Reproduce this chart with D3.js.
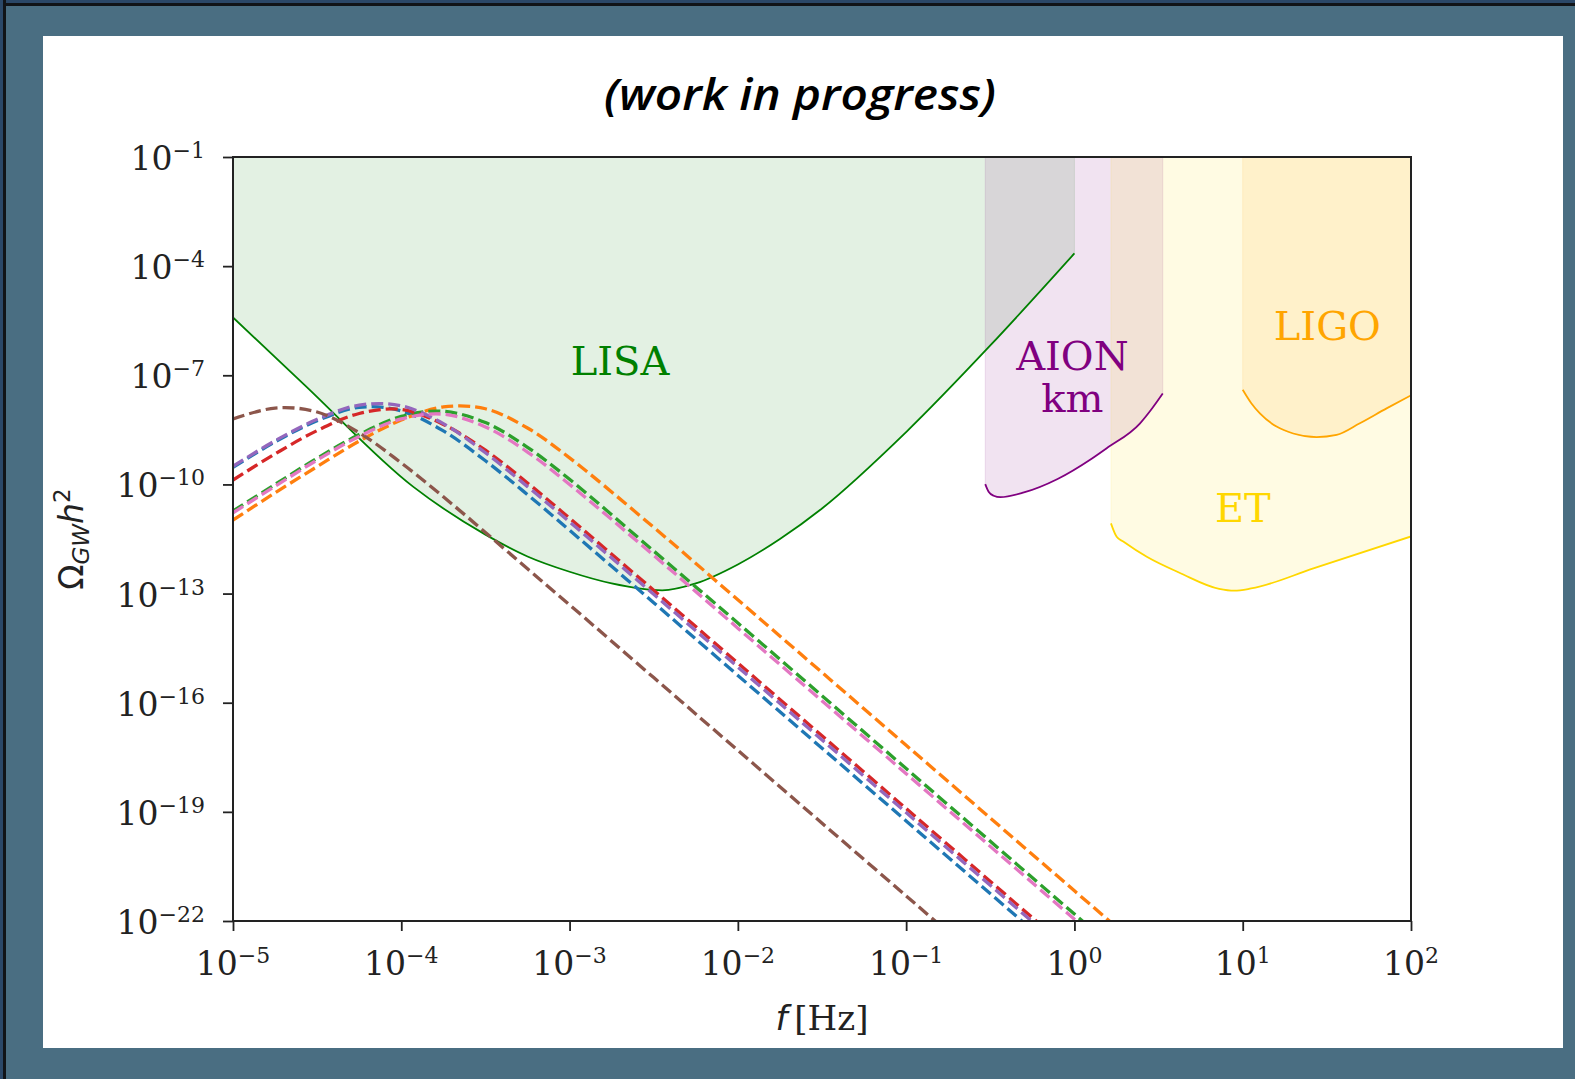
<!DOCTYPE html>
<html>
<head>
<meta charset="utf-8">
<script src="https://cdn.jsdelivr.net/npm/d3@7"></script>
<style>
  html, body { margin: 0; padding: 0; background: #4a6e82; }
  svg { display: block; }
</style>
</head>
<body>
<svg id="chart" width="1575" height="1079"></svg>
<script>
// ---- data (log10 values) ----
const freqExp = [-5, -4.75, -4.5, -4.25, -4, -3.75, -3.5, -3.25, -3, -2.5, -2, -1, 0, 0.5];

const omegaBlue   = [-9.53, -8.83, -8.25, -7.88, -7.98, -8.53, -9.35, -10.28, -11.26, -13.25, -15.25, -19.25, -23.25, -25.25];
const omegaOrange = [-10.98, -10.23, -9.51, -8.81, -8.23, -7.87, -7.92, -8.45, -9.27, -11.18, -13.17, -17.17, -21.17, -23.17];
const omegaGreen  = [-10.73, -10.00, -9.28, -8.63, -8.13, -7.99, -8.30, -8.98, -9.86, -11.83, -13.81, -17.81, -21.81, -23.81];
const omegaRed    = [-9.88, -9.16, -8.52, -8.05, -7.94, -8.35, -9.06, -9.96, -10.93, -12.91, -14.91, -18.91, -22.91, -24.91];
const omegaPurple = [-9.50, -8.80, -8.21, -7.82, -7.84, -8.33, -9.13, -10.06, -11.03, -13.02, -15.02, -19.02, -23.02, -25.02];
const omegaBrown  = [-8.20, -7.90, -8.01, -8.58, -9.41, -10.34, -11.32, -12.32, -13.31, -15.31, -17.31, -21.31, -25.31, -27.31];
const omegaPink   = [-10.78, -10.05, -9.33, -8.68, -8.20, -8.07, -8.42, -9.11, -10.00, -11.95, -13.95, -17.95, -21.95, -23.95];

const spectra = [omegaBlue, omegaOrange, omegaGreen, omegaRed, omegaPurple, omegaBrown, omegaPink];
const spectraColors = ["#1f77b4", "#ff7f0e", "#2ca02c", "#d62728", "#9467bd", "#8c564b", "#e377c2"];

const lisaFreqExp  = [-5, -4.574, -3.93, -3.5, -3.25, -3, -2.75, -2.45, -2.25, -2, -1.75, -1.5, -1, -0.5, 0];
const lisaOmegaExp = [-5.41, -7.27, -10.06, -11.38, -11.98, -12.40, -12.72, -12.91, -12.72, -12.20, -11.50, -10.66, -8.56, -6.18, -3.65];

const aionFreqExp  = [-0.53, -0.51, -0.48, -0.44, -0.3, -0.1, 0.1, 0.19, 0.39, 0.46, 0.525];
const aionOmegaExp = [-9.99, -10.2, -10.31, -10.35, -10.22, -9.85, -9.30, -9.01, -8.32, -7.92, -7.5];

const etFreqExp  = [0.217, 0.251, 0.29, 0.43, 0.63, 0.86, 0.95, 1.05, 1.42, 2.0];
const etOmegaExp = [-11.07, -11.44, -11.57, -11.99, -12.44, -12.87, -12.92, -12.86, -12.31, -11.43];

const ligoFreqExp  = [1.0, 1.051, 1.102, 1.201, 1.30, 1.439, 1.558, 1.696, 1.855, 2.0];
const ligoOmegaExp = [-7.40, -7.77, -8.05, -8.41, -8.60, -8.70, -8.64, -8.32, -7.91, -7.55];

const detectors = [
  { name: ["LISA"], color: "#008000", f: lisaFreqExp, o: lisaOmegaExp, label: [-2.70, -6.99] },
  { name: ["AION", "km"], color: "#800080", f: aionFreqExp, o: aionOmegaExp, label: [-0.012, -6.855] },
  { name: ["ET"], color: "#ffd700", f: etFreqExp, o: etOmegaExp, label: [1.001, -11.02] },
  { name: ["LIGO"], color: "#ffa500", f: ligoFreqExp, o: ligoOmegaExp, label: [1.503, -6.03] }
];

const xTickExp = [-5, -4, -3, -2, -1, 0, 1, 2];
const yTickExp = [-22, -19, -16, -13, -10, -7, -4, -1];

// ---- layout ----
const W = 1575, H = 1079;
const plot = { left: 233, right: 1411, top: 157, bottom: 921 };
const serif = "'DejaVu Serif', serif";
const sans = "'DejaVu Sans', sans-serif";

const svg = d3.select("#chart");

// slide background and frame
svg.append("rect").attr("width", W).attr("height", H).attr("fill", "#4a6e82");
svg.append("rect").attr("width", W).attr("height", 6).attr("fill", "#111418");
svg.append("rect").attr("width", W).attr("height", 3).attr("fill", "#2b4868");
svg.append("rect").attr("width", 6).attr("height", H).attr("fill", "#111418");
svg.append("rect").attr("width", 3).attr("height", H).attr("fill", "#2b4868");
svg.append("rect").attr("x", 43).attr("y", 36).attr("width", 1520).attr("height", 1012).attr("fill", "#ffffff");

// title
svg.append("text")
  .attr("x", 800).attr("y", 110)
  .attr("text-anchor", "middle")
  .attr("font-family", "'Open Sans', sans-serif")
  .attr("font-style", "italic")
  .attr("font-weight", 600)
  .attr("font-size", 43)
  .attr("textLength", 392)
  .attr("lengthAdjust", "spacingAndGlyphs")
  .attr("fill", "#000")
  .text("(work in progress)");

const x = d3.scaleLog().domain([1e-5, 1e2]).range([plot.left, plot.right]);
const y = d3.scaleLog().domain([1e-22, 1e-1]).range([plot.bottom, plot.top]);

svg.append("clipPath").attr("id", "plot-clip")
  .append("rect")
  .attr("x", plot.left).attr("y", plot.top)
  .attr("width", plot.right - plot.left).attr("height", plot.bottom - plot.top);

const g = svg.append("g").attr("clip-path", "url(#plot-clip)");

const pts = (fs, os) => fs.map((f, i) => ({ f: Math.pow(10, f), o: Math.pow(10, os[i]) }));

// detector sensitivity regions
const area = d3.area()
  .x(d => x(d.f))
  .y0(y(1e-1))
  .y1(d => y(d.o))
  .curve(d3.curveMonotoneX);

const senseLine = d3.line()
  .x(d => x(d.f))
  .y(d => y(d.o))
  .curve(d3.curveMonotoneX);

detectors.forEach(det => {
  g.append("path")
    .datum(pts(det.f, det.o))
    .attr("d", area)
    .attr("fill", det.color)
    .attr("fill-opacity", 0.11)
    .attr("stroke", det.color)
    .attr("stroke-opacity", 0.11)
    .attr("stroke-width", 1);
});

detectors.forEach(det => {
  g.append("path")
    .datum(pts(det.f, det.o))
    .attr("d", senseLine)
    .attr("fill", "none")
    .attr("stroke", det.color)
    .attr("stroke-width", 1.8);
});

// GW spectra (dashed)
const specLine = d3.line()
  .x(d => x(d.f))
  .y(d => y(d.o))
  .curve(d3.curveCatmullRom.alpha(0.5));

spectra.forEach((s, i) => {
  g.append("path")
    .datum(pts(freqExp, s))
    .attr("d", specLine)
    .attr("fill", "none")
    .attr("stroke", spectraColors[i])
    .attr("stroke-width", 3.3)
    .attr("stroke-dasharray", "12,5");
});

// region labels
detectors.forEach(det => {
  const t = svg.append("text")
    .attr("x", x(Math.pow(10, det.label[0])))
    .attr("y", y(Math.pow(10, det.label[1])))
    .attr("text-anchor", "middle")
    .attr("font-family", serif)
    .attr("font-size", 40)
    .attr("fill", det.color);
  det.name.forEach((line, k) => {
    t.append("tspan")
      .attr("x", x(Math.pow(10, det.label[0])))
      .attr("dy", k === 0 ? 0 : 42)
      .text(line);
  });
});

// axes
const xMinor = [];
for (let k = -5; k < 2; k++) for (let m = 2; m < 10; m++) xMinor.push(m * Math.pow(10, k));

const gx = svg.append("g").attr("transform", `translate(0,${plot.bottom})`);
gx.call(d3.axisBottom(x).tickValues(xMinor).tickSize(6).tickFormat(() => ""));
gx.call(d3.axisBottom(x).tickValues(xTickExp.map(e => Math.pow(10, e))).tickSize(10).tickFormat(() => ""));
gx.selectAll(".domain").remove();
gx.selectAll(".tick line").attr("stroke", "#222").attr("stroke-width", 1.8);

const gy = svg.append("g").attr("transform", `translate(${plot.left},0)`);
gy.call(d3.axisLeft(y).tickValues(yTickExp.map(e => Math.pow(10, e))).tickSize(10).tickFormat(() => ""));
gy.selectAll(".domain").remove();
gy.selectAll(".tick line").attr("stroke", "#222").attr("stroke-width", 1.8);

function powLabel(sel, e) {
  sel.append("tspan").text("10");
  sel.append("tspan")
    .attr("dy", -12)
    .attr("font-size", 22)
    .text(e < 0 ? "\u2212" + (-e) : String(e));
}

xTickExp.forEach(e => {
  const t = svg.append("text")
    .attr("x", x(Math.pow(10, e)))
    .attr("y", plot.bottom + 54)
    .attr("text-anchor", "middle")
    .attr("font-family", serif)
    .attr("font-size", 33)
    .attr("fill", "#222");
  powLabel(t, e);
});

yTickExp.forEach(e => {
  const t = svg.append("text")
    .attr("x", plot.left - 28)
    .attr("y", y(Math.pow(10, e)) + 13)
    .attr("text-anchor", "end")
    .attr("font-family", serif)
    .attr("font-size", 33)
    .attr("fill", "#222");
  powLabel(t, e);
});

// frame
svg.append("rect")
  .attr("x", plot.left).attr("y", plot.top)
  .attr("width", plot.right - plot.left).attr("height", plot.bottom - plot.top)
  .attr("fill", "none")
  .attr("stroke", "#222")
  .attr("stroke-width", 2);

// axis titles
const xl = svg.append("text")
  .attr("x", 822).attr("y", 1030)
  .attr("text-anchor", "middle")
  .attr("font-size", 34)
  .attr("fill", "#222");
xl.append("tspan").attr("font-family", sans).attr("font-style", "italic").text("f");
xl.append("tspan").attr("font-family", serif).text("\u2009[Hz]");

const yl = svg.append("text")
  .attr("transform", `translate(83,${(plot.top + plot.bottom) / 2}) rotate(-90)`)
  .attr("text-anchor", "middle")
  .attr("font-family", sans)
  .attr("font-size", 33)
  .attr("fill", "#222");
yl.append("tspan").text("\u03a9");
yl.append("tspan").attr("font-style", "italic").attr("font-size", 23).attr("dy", 6).text("GW");
yl.append("tspan").attr("font-style", "italic").attr("dy", -6).text("h");
yl.append("tspan").attr("font-size", 23).attr("dy", -13).text("2");
</script>
</body>
</html>
